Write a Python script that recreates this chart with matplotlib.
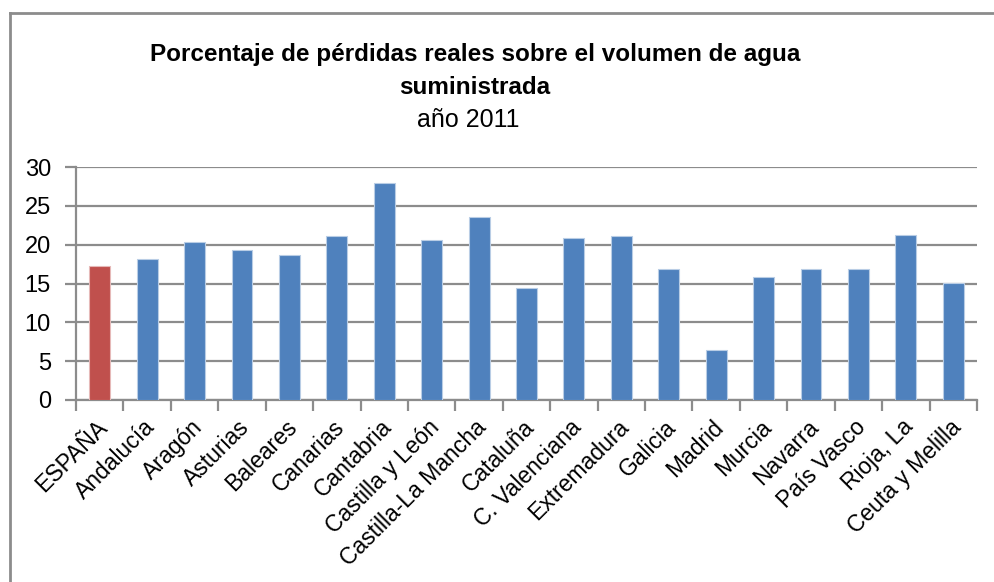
import matplotlib
matplotlib.use("Agg")
import matplotlib.pyplot as plt
from matplotlib.lines import Line2D

categories = ["ESPAÑA", "Andalucía", "Aragón", "Asturias", "Baleares", "Canarias",
              "Cantabria", "Castilla y León", "Castilla-La Mancha", "Cataluña",
              "C. Valenciana", "Extremadura", "Galicia", "Madrid", "Murcia",
              "Navarra", "País Vasco", "Rioja, La", "Ceuta y Melilla"]
values = [17.3, 18.2, 20.3, 19.3, 18.7, 21.1, 28.0, 20.6, 23.6, 14.4,
          20.8, 21.1, 16.9, 6.4, 15.9, 16.9, 16.9, 21.3, 15.1]
yticks = [0, 5, 10, 15, 20, 25, 30]
title_lines = ["Porcentaje de pérdidas reales sobre el volumen de agua", "suministrada"]
subtitle = "año 2011"

plt.rcParams['font.family'] = ['Liberation Sans', 'DejaVu Sans']

W, H = 994, 582
fig = plt.figure(figsize=(W / 100, H / 100), dpi=100)
ax = fig.add_axes([76 / W, 1 - 400 / H, (977 - 76) / W, (400 - 167) / H])

n = len(categories)
x = list(range(n))
colors = ['#C0504D'] + ['#4F81BD'] * (n - 1)
edges = ['#E6B9B8'] + ['#B9CDE5'] * (n - 1)
ax.bar(x, values, width=0.44, color=colors, edgecolor=edges, linewidth=0.8, zorder=3)

ax.set_xlim(-0.5, n - 0.5)
ax.set_ylim(0, 30)
ax.set_yticks(yticks)
ax.set_yticklabels([str(v) for v in yticks], fontsize=17)
ax.yaxis.grid(True, color='#8C8C8C', linewidth=1.6, zorder=0)
ax.set_axisbelow(True)

# x ticks at category boundaries
ax.set_xticks([i - 0.5 for i in range(n + 1)])
ax.set_xticklabels([])
ax.tick_params(axis='x', direction='out', length=8, width=1.6, color='#8C8C8C')
ax.tick_params(axis='y', direction='out', length=8, width=1.6, color='#8C8C8C', pad=10)

for s in ['top', 'right']:
    ax.spines[s].set_visible(False)
for s in ['left', 'bottom']:
    ax.spines[s].set_color('#8C8C8C')
    ax.spines[s].set_linewidth(1.6)

for i, lab in enumerate(categories):
    ax.annotate(lab, xy=(i, 0), xycoords='data', xytext=(3, -17), textcoords='offset points',
                rotation=45, ha='right', va='center', rotation_mode='anchor',
                fontsize=16.5, annotation_clip=False)

fig.text(475 / W, 1 - 55 / H, title_lines[0], ha='center', va='center', fontsize=17.5,
         fontweight='bold')
fig.text(475 / W, 1 - 87 / H, title_lines[1], ha='center', va='center', fontsize=17.5,
         fontweight='bold')
fig.text(468 / W, 1 - 120 / H, subtitle, ha='center', va='center', fontsize=18)

# outer frame (top and left edges visible)
fig.add_artist(Line2D([10 / W, 1.0], [1 - 13 / H, 1 - 13 / H], transform=fig.transFigure,
                      color='#8C8C8C', linewidth=2))
fig.add_artist(Line2D([10 / W, 10 / W], [0, 1 - 13 / H], transform=fig.transFigure,
                      color='#8C8C8C', linewidth=2))

fig.savefig('out.png', dpi=100)
